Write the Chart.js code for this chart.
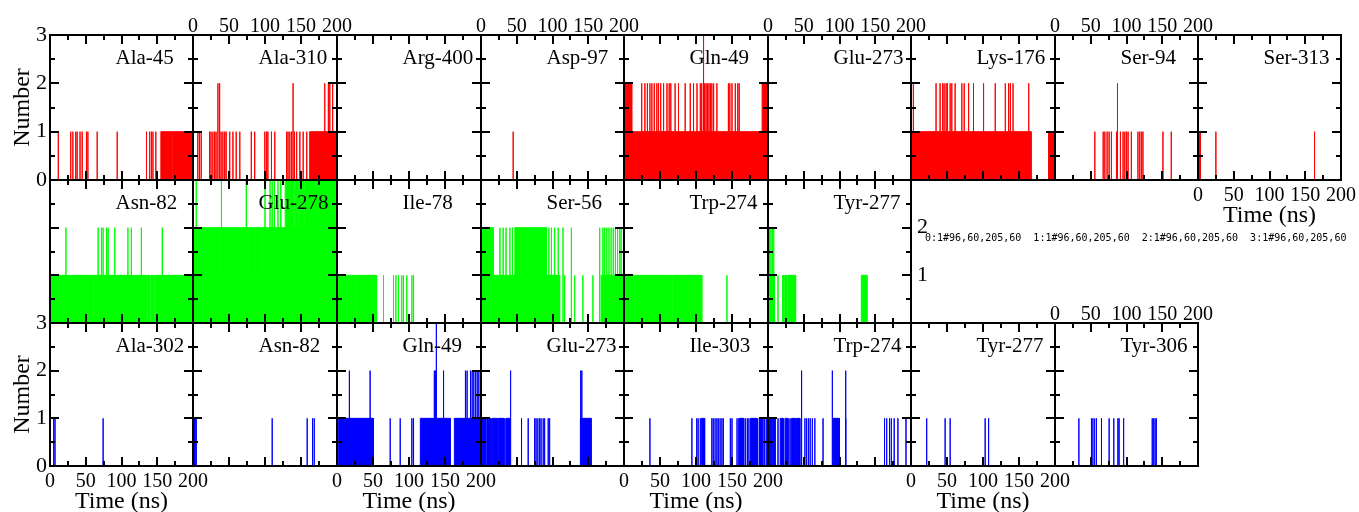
<!DOCTYPE html>
<html>
<head>
<meta charset="utf-8">
<script src="https://cdn.jsdelivr.net/npm/chart.js@4.4.0/dist/chart.umd.min.js"></script>
<style>
body{margin:0;background:#fff}
#wrap{position:relative;width:1359px;height:512px;overflow:hidden;background:#fff}
#wrap canvas{position:absolute}
#dbg{position:absolute;left:925px;top:232px;font:10px monospace;white-space:pre;z-index:50;width:430px}
</style>
</head>
<body>
<div id="wrap"><div id="dbg"></div></div>
<script>
// red row (top)
const redNames = ["Ala-45","Ala-310","Arg-400","Asp-97","Gln-49","Glu-273","Lys-176","Ser-94","Ser-313"]
const redSpk1 = [
  [11.6,29,32,36,38,42,45,51,53,66,94,135,139.5,142,144,148],
  [6.7,9,11.4,23,25,27.6,30,32,39,41.5,44,46,51,55.5,60,65,81,85.7,99.7,102,104,109,113.6,130,132,134.5,137,141,144,148.4,153,158],
  [],
  [45],
  [],
  [],
  [],
  [55.7,67.4,69.7,72.9,75.7,78.9,86,91.5,95.2,97.6,99.9,102.2,106.8,116,118.5,120.8,123,151,162.6],
  [25,163]
]
const redSpk2 = [
  [],
  [34.6,37,139,183,188,190,194],
  [],
  [],
  [24.6,29,32.5,36,38.7,42,45.6,48,51,55,59.7,62.8,65,71,75.7,85,92,96.6,101.4,106,108,112,114,116,118,120,122,124.5,129,145,147,150,154.6,158,160],
  [],
  [3.3,34.8,40.4,44,46,48.8,50.6,54.4,56.7,61.3,70.6,73.9,80,86.8,100.8,117,131,135.6,138,141.7,163.5],
  [87.4],
  []
]
const redSpk3 = [[],[],[],[],[110.5],[],[],[],[]]
const redBlk1 = [
  [[155,170],[171,198]],
  [[162,200]],
  [],
  [],
  [[0,99],[100,145],[146,200]],
  [],
  [[0,166.8],[191,198]],
  [],
  [[0,3.5]]
]
const redBlk2 = [[],[],[],[],[[0,10.7],[191.8,198.8]],[],[],[],[]]
const redBlk3 = [[],[],[],[],[],[],[],[],[]]

// green row (middle)
const greenNames = ["Asn-82","Glu-278","Ile-78","Ser-56","Trp-274","Tyr-277"]
const greenSpk1 = [
  [],
  [],
  [64.6,78.5,81.8,85.4,90,92.4,97,104,106.3],
  [117,131,142.5,156.5],
  [143],
  [14]
]
const greenSpk2 = [
  [22.3,67.3,72,74.3,79,81.3,90.6,109,113.8,127.8,157],
  [],
  [],
  [26.5,31,35,40.4,44,95,98.5,103,108,114.7,126.4,166,170.5,173,176,179,182,185,188,191,194,196],
  [],
  [2,4,6,8]
]
const greenSpk3 = [[],[4.5,39.5,74,100,107,110,113,118,122],[],[],[],[]]
const greenBlk1 = [
  [[0,11.5],[12.5,29.5],[30.5,59.5],[60.5,127.5],[128.5,134.5],[136,139.5],[141,145.5],[147,200]],
  [[0,29.5],[30.5,57.5],[58.5,148.5],[149.5,155.5],[156.5,162.5],[163.5,173.5],[174.5,183.5],[184.5,190],[191,200]],
  [[0,4.5],[5.5,25.5],[26.5,42],[43,55]],
  [[1,19.5],[20.5,90.5],[91.5,110],[168,200]],
  [[0,66],[67,108]],
  [[1.9,9.1],[20.4,22],[23.5,26],[27.5,38.6],[130.5,138.4]]
]
const greenBlk2 = [
  [],
  [[1,9],[9.8,16],[16.8,37],[37.8,67],[67.8,71.7],[72.5,85.7],[86.5,95],[96,104.3],[105,109],[109.8,200]],
  [],
  [[1,17],[47.4,91.6]],
  [],
  []
]
const greenBlk3 = [[],[[128,140],[141.5,146],[148,153],[155,200]],[],[],[],[]]

// blue row (bottom)
const blueNames = ["Ala-302","Asn-82","Gln-49","Glu-273","Ile-303","Trp-274","Tyr-277","Tyr-306"]
const blueSpk1 = [
  [4.6,5.5,7,74.3],
  [2,3,4.5,110,158.6,166,168.4],
  [73.9,87.8,104,106.3],
  [6.5,14.5,23,33.5,56.7,66,75,77,79.5,82,84,87,89,94,96],
  [36,94.3,101,103,106,122,124,126.5,129,131,133.5,136,138,147.7,150,157,159.5,162,164,166.5,169,171.5,173.5,176,178.5,181,183.5,185.5,188,190.5,193,195,197.5],
  [5,14,22,29,31,39,51.6,54,56.5,59,62,65.5,77,108.7,163,166,170,172.5,176.5,181.7,193],
  [21.8,47.4,54.4,103,107.8],
  [33.4,51,53,55.5,58,65,75.7,82.2,88,89.6,96,136,138,140,141.7]
]
const blueSpk2 = [
  [],
  [],
  [17.2,46,135.2,136.5,148,178.4,180.7,185.4,187.7,190,192.4,194.7,197],
  [41.4,139.5,141],
  [],
  [47,90,108.7],
  [],
  []
]
const blueSpk3 = [[],[],[138],[],[],[],[],[]]
const blueBlk1 = [
  [],
  [],
  [[1.9,50.6],[115.7,157.5],[163,199]],
  [[1,5],[8,13],[16,22],[24,32],[35,40],[139,154]],
  [[107.5,112],[160,166],[176,184],[188,192]],
  [[0,4],[6,10],[17,21],[24,27],[33,38],[40,44.6],[91,100]],
  [],
  []
]
const blueBlk2 = [[],[],[],[],[],[],[],[]]
const blueBlk3 = [[],[],[],[],[],[],[],[]]

const timeTicks = [0,50,100,150,200]
const timeMinor = [25,75,125,175]
const numberTicks = [0,1,2,3]
const numberMinor = [0.5,1.5,2.5]

// frame edges of the panel grid
const colX = [50,193,337,481,624,768,911,1055,1198,1341]
const rowY = [35,180,323,466]
const M = 60
const serif = "'Liberation Serif','DejaVu Serif','Times New Roman',serif"

Chart.defaults.font.family = serif
Chart.defaults.color = '#000'

let log = {}

const rows = [
  {names:redNames, s1:redSpk1, s2:redSpk2, s3:redSpk3, b1:redBlk1, b2:redBlk2, b3:redBlk3,
   color:'#ff0000', top:[1,3,5,7], bottom:[8], left:[0], right:[]},
  {names:greenNames, s1:greenSpk1, s2:greenSpk2, s3:greenSpk3, b1:greenBlk1, b2:greenBlk2, b3:greenBlk3,
   color:'#00ff00', top:[], bottom:[], left:[], right:[5]},
  {names:blueNames, s1:blueSpk1, s2:blueSpk2, s3:blueSpk3, b1:blueBlk1, b2:blueBlk2, b3:blueBlk3,
   color:'#0000ff', top:[7], bottom:[0,2,4,6], left:[0], right:[]}
]

function spikes(times, v){
  let pts = []
  times.forEach(t => { pts.push({x:t,y:0},{x:t,y:v},{x:t,y:0}) })
  return pts
}
function blocks(list, v){
  let pts = []
  list.forEach(b => { pts.push({x:b[0],y:0},{x:b[0],y:v},{x:b[1],y:v},{x:b[1],y:0}) })
  return pts
}

function axis(pos, labels, title){
  const horiz = pos==='top' || pos==='bottom'
  let pad = 0
  if(pos==='bottom') pad = 4
  if(pos==='top') pad = -4
  if(pos==='left') pad = 3
  if(pos==='right') pad = 6
  const a = {
    type:'linear', position:pos, min:0, max: horiz ? 200 : 3,
    afterFit: s => { if(horiz) s.height = M; else s.width = M },
    afterBuildTicks: s => { s.ticks = (horiz ? timeTicks : numberTicks).map(v => ({value:v})) },
    border:{display:true, width:2, color:'#000', z:2},
    grid:{display:false, drawTicks:false, drawOnChartArea:false},
    ticks:{
      display: !!labels,
      autoSkip:false, maxRotation:0, minRotation:0,
      color:'#000', padding:pad,
      font:{family:serif, size: horiz ? 20 : 22},
      callback: labels==='mid' ? (v => (v===1 || v===2) ? String(v) : '') : (v => String(v))
    },
    title:{display:false}
  }
  if(title){
    a.title = {display:true, text:title, color:'#000', font:{family:serif, size:24},
      padding: pos==='left' ? {top:18,bottom:0} : {top:0,bottom:10}}
  }
  return a
}

// inward tick marks on all four sides, placed through the panel's own scales
const tickMarks = {
  id:'tickMarks',
  afterDraw(chart){
    const a = chart.chartArea, ctx = chart.ctx
    const xs = chart.scales.x, ys = chart.scales.y
    const k = chart.id
    log[k] = (log[k] ? log[k].split('#')[0] + '#' : '1#') + [Math.round(xs.getPixelForValue(50)), a.top, a.bottom, a.left].join(',')
    document.getElementById('dbg').textContent = Object.keys(log).map(i => i + ':' + log[i]).join('  ')
    ctx.save()
    ctx.fillStyle = '#000'
    const xt = (v, len) => {
      const px = Math.round(xs.getPixelForValue(v))
      ctx.fillRect(px - 1, a.bottom - len, 2, len)
      ctx.fillRect(px - 1, a.top, 2, len)
    }
    const yt = (v, len) => {
      const py = Math.round(ys.getPixelForValue(v))
      ctx.fillRect(a.left, py - 1, len, 2)
      ctx.fillRect(a.right - len, py - 1, len, 2)
    }
    timeTicks.forEach(v => xt(v, 9))
    timeMinor.forEach(v => xt(v, 5))
    numberTicks.forEach(v => yt(v, 9))
    numberMinor.forEach(v => yt(v, 5))
    ctx.restore()
  }
}

const nameLabel = {
  id:'nameLabel',
  afterDraw(chart, args, opts){
    const a = chart.chartArea, ctx = chart.ctx
    ctx.save()
    ctx.font = '21px ' + serif
    ctx.fillStyle = '#000'
    ctx.textAlign = 'left'
    ctx.textBaseline = 'alphabetic'
    ctx.fillText(opts.text, a.left + 65.5, a.top + 28.5)
    ctx.restore()
  }
}

const wrap = document.getElementById('wrap')

rows.forEach((row, r) => {
  row.names.forEach((name, i) => {
    const w = colX[i+1] - colX[i]
    const h = rowY[r+1] - rowY[r]
    const cv = document.createElement('canvas')
    cv.width = w + 2*M
    cv.height = h + 2*M
    cv.style.left = (colX[i] - M) + 'px'
    cv.style.top = (rowY[r] - M) + 'px'
    cv.style.width = cv.width + 'px'
    cv.style.height = cv.height + 'px'
    wrap.appendChild(cv)

    const col = row.color
    const ds = []
    ;[[row.b1[i],1],[row.b2[i],2],[row.b3[i],3]].forEach(([list, v]) => {
      if(list.length) ds.push({data:blocks(list, v), borderColor:col, backgroundColor:col,
        borderWidth:1, fill:'origin', pointRadius:0})
    })
    ;[[row.s1[i],1],[row.s2[i],2],[row.s3[i],3]].forEach(([list, v]) => {
      if(list.length) ds.push({data:spikes(list, v), borderColor:col, borderWidth:1,
        fill:false, pointRadius:0})
    })

    const showB = row.bottom.includes(i)
    const showT = row.top.includes(i)
    const showL = row.left.includes(i)
    const showR = row.right.includes(i)

    new Chart(cv, {
      type:'line',
      data:{datasets:ds},
      options:{
        responsive:false,
        animation:false,
        devicePixelRatio:1,
        events:[],
        layout:{padding:0, autoPadding:false},
        plugins:{legend:{display:false}, tooltip:{enabled:false}, nameLabel:{text:name}},
        scales:{
          x: axis('bottom', showB, showB ? 'Time (ns)' : null),
          xt: axis('top', showT, null),
          y: axis('left', showL, showL ? 'Number' : null),
          yr: axis('right', showR ? 'mid' : false, null)
        }
      },
      plugins:[tickMarks, nameLabel]
    })
  })
})
</script>
</body>
</html>
